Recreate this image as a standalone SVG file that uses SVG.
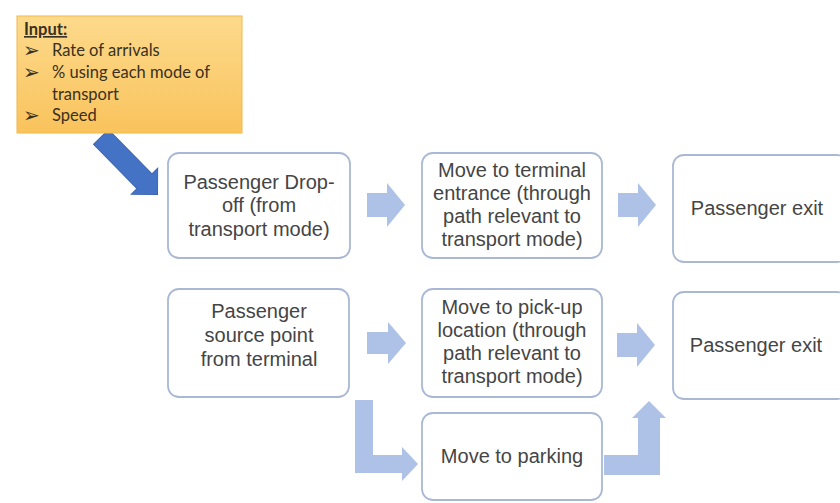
<svg xmlns="http://www.w3.org/2000/svg" width="840" height="503" viewBox="0 0 840 503">
<defs>
<linearGradient id="inGrad" x1="0" y1="0" x2="0" y2="1">
<stop offset="0" stop-color="#fdda8c"/>
<stop offset="1" stop-color="#f9c35c"/>
</linearGradient>
<style>
.node rect{fill:#ffffff;stroke:#a9b8d4;stroke-width:1.8}
.node text{font-family:"Liberation Sans",Arial,sans-serif;font-size:20px;fill:#454545;text-anchor:middle}
.flow{fill:#adc2e6}
.inp{font-family:Lato,"Open Sans",sans-serif;font-size:16.5px;fill:#3a3020}
.bul{font-family:"DejaVu Sans",sans-serif;font-size:20px;fill:#3a3020}
</style>
</defs>
<rect width="840" height="503" fill="#ffffff"/>

<g id="connectors">
<path id="input-arrow" d="M0,-10.5 L62,-10.5 L62,-18.5 L80.6,0 L62,18.5 L62,10.5 L0,10.5 Z" transform="translate(101,137) rotate(45.5)" fill="#4472c4" stroke="#3d66b0" stroke-width="1"/>
<path class="flow" d="M367,193 L387,193 L387,183 L405,205 L387,227 L387,217 L367,217 Z"/>
<path class="flow" d="M618,193 L638,193 L638,183 L656,205 L638,227 L638,217 L618,217 Z"/>
<path class="flow" d="M367,332 L388,332 L388,322 L406,343 L388,364 L388,354 L367,354 Z"/>
<path class="flow" d="M617,333 L637,333 L637,323 L655,345 L637,367 L637,357 L617,357 Z"/>
<path class="flow" d="M355,400 L373,400 L373,455 L402,455 L402,447 L418,464 L402,481 L402,473 L355,473 Z"/>
<path class="flow" d="M604,455 L638,455 L638,418 L632,418 L649,401 L666,418 L660,418 L660,475 L604,475 Z"/>
</g>

<g id="input">
<rect x="17" y="16" width="225" height="117" fill="url(#inGrad)" stroke="#f2b84a" stroke-width="1"/>
<text class="inp" x="24" y="35" font-weight="bold" text-decoration="underline">Input:</text>
<text class="bul" x="23" y="57">➢</text>
<text class="inp" x="52" y="56">Rate of arrivals</text>
<text class="bul" x="23" y="79">➢</text>
<text class="inp" x="52" y="78">% using each mode of</text>
<text class="inp" x="52" y="100">transport</text>
<text class="bul" x="23" y="122">➢</text>
<text class="inp" x="52" y="121">Speed</text>
</g>

<g id="n1" class="node">
<rect x="168" y="153" width="182" height="105" rx="11"/>
<text x="259" y="189">Passenger Drop-</text>
<text x="259" y="212">off (from</text>
<text x="259" y="236">transport mode)</text>
</g>
<g id="n2" class="node">
<rect x="422" y="153" width="180" height="105" rx="11"/>
<text x="512" y="177">Move to terminal</text>
<text x="512" y="200">entrance (through</text>
<text x="512" y="223">path relevant to</text>
<text x="512" y="246">transport mode)</text>
</g>
<g id="n3" class="node">
<rect x="673" y="155" width="175" height="107" rx="11"/>
<text x="757" y="215">Passenger exit</text>
</g>
<g id="n4" class="node">
<rect x="168" y="289" width="181" height="108" rx="11"/>
<text x="259" y="318">Passenger</text>
<text x="259" y="342">source point</text>
<text x="259" y="366">from terminal</text>
</g>
<g id="n5" class="node">
<rect x="422" y="289" width="180" height="108" rx="11"/>
<text x="512" y="314">Move to pick-up</text>
<text x="512" y="337">location (through</text>
<text x="512" y="360">path relevant to</text>
<text x="512" y="383">transport mode)</text>
</g>
<g id="n6" class="node">
<rect x="673" y="292" width="175" height="107" rx="11"/>
<text x="756" y="352">Passenger exit</text>
</g>
<g id="n7" class="node">
<rect x="422" y="413" width="180" height="87" rx="11"/>
<text x="512" y="463">Move to parking</text>
</g>
</svg>
